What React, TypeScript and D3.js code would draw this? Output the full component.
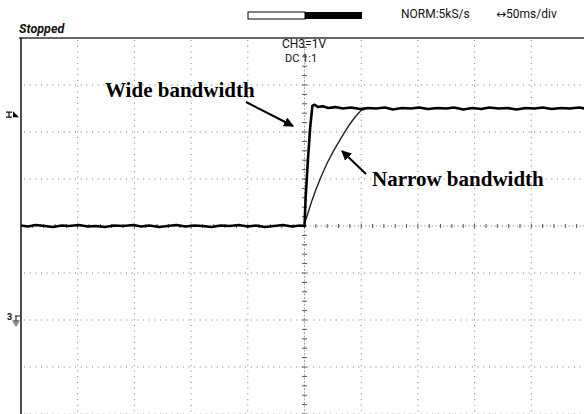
import * as React from 'react'
import * as d3 from 'd3'

// scope settings: 50 ms/div, 1 V/div, trigger at screen centre
const timeDomain = [-250, 250]
const voltDomain = [-2, 6]
const xDivs = d3.range(-250, 251, 50)
const yDivs = d3.range(-2, 7, 1)

// wide bandwidth trace (ms, V)
const wideTrace: [number, number][] = [
  [-250, 2.01], [-244, 1.99], [-237, 2.02], [-229, 2.0], [-222, 1.98], [-214, 2.01], [-208, 2.0],
  [-199, 2.02], [-191, 1.99], [-184, 2.0], [-176, 1.98], [-168, 2.01], [-160, 2.0], [-151, 2.02],
  [-144, 1.99], [-137, 2.01], [-128, 1.98], [-121, 2.0], [-113, 2.02], [-105, 1.99], [-97, 2.01],
  [-90, 2.0], [-82, 1.98], [-74, 2.01], [-66, 2.0], [-58, 2.02], [-50, 1.99], [-43, 2.01],
  [-35, 1.98], [-27, 2.0], [-19, 2.02], [-11, 1.99], [-4, 2.01], [0, 2.0], [1, 2.6], [3, 3.4],
  [5, 4.1], [7, 4.56], [9, 4.58], [12, 4.53], [16, 4.55], [21, 4.51], [27, 4.53], [34, 4.5],
  [41, 4.52], [49, 4.49], [56, 4.51], [63, 4.5], [71, 4.52], [78, 4.48], [86, 4.51], [94, 4.5],
  [101, 4.52], [109, 4.49], [117, 4.51], [125, 4.5], [132, 4.52], [140, 4.48], [148, 4.51],
  [156, 4.49], [163, 4.52], [171, 4.5], [179, 4.51], [187, 4.48], [195, 4.51], [203, 4.5],
  [210, 4.52], [218, 4.49], [226, 4.51], [234, 4.5], [242, 4.52], [250, 4.49],
]

// narrow bandwidth trace (ms, V)
const narrowTrace: [number, number][] = [
  [0, 2.05], [3, 2.27], [6, 2.5], [10, 2.77], [15, 3.07], [20, 3.34], [25, 3.57], [30, 3.78],
  [35, 3.98], [40, 4.17], [45, 4.33], [50, 4.46], [55, 4.5],
]

const triggerLevel = 4.4
const groundLevel = 0

const W = 584
const H = 414
const left = 21
const top = 38
const divW = 56.7
const divH = 47

export default function App() {
  const x = d3.scaleLinear().domain(timeDomain).range([left, left + divW * 10])
  const y = d3.scaleLinear().domain(voltDomain).range([top + divH * 8, top])
  const line = d3
    .line<[number, number]>()
    .x((d) => x(d[0]))
    .y((d) => y(d[1]))

  const cx = x(0)
  const cy = y(2)
  const xMinor = d3.range(-250, 251, 10)
  const yMinor = d3.range(-2, 6.01, 0.2)

  const sans = 'Roboto, "DejaVu Sans", sans-serif'
  const serif = '"Liberation Serif", "Times New Roman", serif'

  return (
    <svg width={W} height={H} style={{ position: 'absolute', left: 0, top: 0, background: '#fff' }}>
      <defs>
        <marker id="ah" viewBox="0 0 10 10" refX="9" refY="5" markerWidth="5" markerHeight="5" orient="auto">
          <path d="M0,0 L10,5 L0,10 z" fill="#000" />
        </marker>
      </defs>

      {/* header */}
      <rect x={248} y={12} width={57} height={7} fill="#fff" stroke="#000" strokeWidth={1} />
      <rect x={305} y={12} width={57} height={7} fill="#000" />
      <text x={401} y={18} fontFamily={sans} fontSize={12} fill="#111">NORM:5kS/s</text>
      <text x={496} y={18} fontFamily={sans} fontSize={12} fill="#111">↔50ms/div</text>
      <text x={19} y={33} fontFamily={sans} fontSize={12.5} fontStyle="italic" fontWeight="bold" fill="#111">Stopped</text>

      {/* frame */}
      <line x1={19} x2={W} y1={top} y2={top} stroke="#333" strokeWidth={1.5} />
      <line x1={left} x2={left} y1={top} y2={H} stroke="#111" strokeWidth={1.5} />

      {/* grid */}
      {xDivs.slice(1).map((t) =>
        t === 0 ? null : (
          <line key={'gx' + t} x1={x(t)} x2={x(t)} y1={top + 2} y2={H} stroke="#777" strokeWidth={1} strokeDasharray="1,4.7" />
        )
      )}
      {yDivs.slice(0, -1).map((v) =>
        v === 2 ? null : (
          <line key={'gy' + v} x1={left + 3} x2={W} y1={y(v)} y2={y(v)} stroke="#777" strokeWidth={1} strokeDasharray="1,4.67" />
        )
      )}

      {/* centre axes with minor ticks */}
      <line x1={cx} x2={cx} y1={top} y2={H} stroke="#aaa" strokeWidth={1} strokeDasharray="2,1.5" />
      {yMinor.map((v) => (
        <line key={'ty' + v} x1={cx - 2.5} x2={cx + 2.5} y1={y(v)} y2={y(v)} stroke="#555" strokeWidth={1} />
      ))}
      <line x1={left} x2={W} y1={cy} y2={cy} stroke="#777" strokeWidth={1} strokeDasharray="1,2.7" />
      {xMinor.map((t) => (
        <line key={'tx' + t} x1={x(t)} x2={x(t)} y1={cy - 2} y2={cy + 2} stroke="#555" strokeWidth={1} />
      ))}

      {/* channel labels */}
      <text x={282} y={48} fontFamily={sans} fontSize={12} fill="#111">CH3=1V</text>
      <text x={285} y={62} fontFamily={sans} fontSize={11} fill="#111">DC  1:1</text>

      {/* markers */}
      <g transform={`translate(0,${y(triggerLevel)})`}>
        <path d="M6,-1 L12,-1 M9,-1 L9,4 M6,4 L12,4" stroke="#111" strokeWidth={1.2} fill="none" />
        <path d="M13,4 L19,4 L13,-2 z" fill="#000" />
      </g>
      <g transform={`translate(0,${y(groundLevel)})`}>
        <text x={7} y={0} fontFamily={sans} fontSize={9} fontWeight="bold" fill="#111">3</text>
        <path d="M15,-4 L20,-4 M16,-4 L16,1 M12.5,1 L19.5,1 M13.5,3 L18.5,3 M14.5,5 L17.5,5" stroke="#111" strokeWidth={1} fill="none" />
      </g>

      {/* traces */}
      <path d={line(narrowTrace) ?? ''} fill="none" stroke="#222" strokeWidth={1.4} />
      <path d={line(wideTrace) ?? ''} fill="none" stroke="#000" strokeWidth={2.6} strokeLinejoin="round" />

      {/* annotations */}
      <text x={105} y={97} fontFamily={serif} fontSize={21} fontWeight="bold" fill="#000">Wide bandwidth</text>
      <line x1={246} y1={102} x2={293} y2={126} stroke="#000" strokeWidth={2} markerEnd="url(#ah)" />
      <text x={372} y={186} fontFamily={serif} fontSize={21} fontWeight="bold" fill="#000">Narrow bandwidth</text>
      <line x1={366} y1={174} x2={342} y2={151} stroke="#000" strokeWidth={2} markerEnd="url(#ah)" />
    </svg>
  )
}
